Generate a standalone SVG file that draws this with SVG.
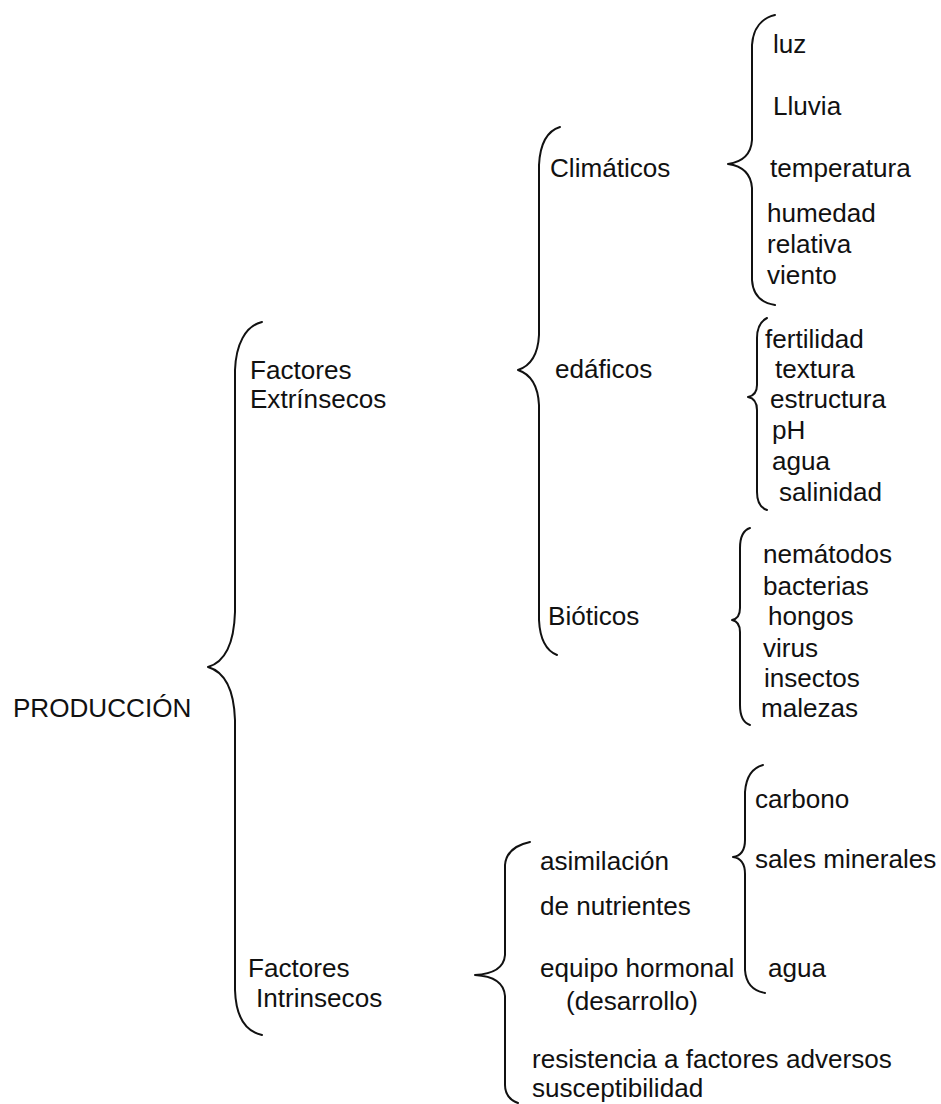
<svg xmlns="http://www.w3.org/2000/svg" width="941" height="1104" viewBox="0 0 941 1104">
<style>
  text { font-family: "Liberation Sans", Arial, sans-serif; font-size: 25px; fill: #111; }
  .brace { fill: none; stroke: #111; stroke-width: 2; stroke-linecap: round; stroke-linejoin: round; }
</style>
<rect width="941" height="1104" fill="#ffffff"/>
<g id="connectors">
  <path id="brace-produccion" class="brace" d="M262,322 C245,326 236,345 235,370 L235,612 C234,645 225,662 208,667 C225,672 234,690 235,720 L235,990 C236,1020 248,1032 262,1035"/>
  <path id="brace-extrinsecos" class="brace" d="M560,127 C547,131 540,145 539,165 L539,335 C538,355 530,366 518,370 C530,374 538,385 539,405 L539,620 C540,640 547,651 557,655"/>
  <path id="brace-climaticos" class="brace" d="M775,15 C762,18 753,28 752,45 L752,140 C751,155 742,162 728,164 C742,166 751,173 752,188 L752,280 C753,296 762,303 775,305"/>
  <path id="brace-edaficos" class="brace" d="M767,318 C761,321 757,328 757,338 L757,385 C757,392 753,396 748,397 C753,398 757,402 757,410 L757,492 C757,502 761,508 767,510"/>
  <path id="brace-bioticos" class="brace" d="M750,528 C744,530 740,537 740,548 L740,608 C740,615 737,619 732,620 C737,621 740,625 740,632 L740,705 C740,716 744,723 750,725"/>
  <path id="brace-intrinsecos" class="brace" d="M530,842 C516,845 506,852 505,865 L505,955 C504,968 493,974 475,975 C493,976 504,983 505,996 L505,1085 C505,1094 510,1100 518,1103"/>
  <path id="brace-nutrientes" class="brace" d="M763,765 C752,768 746,778 745,792 L745,840 C745,851 740,856 733,857 C740,858 745,863 745,874 L745,970 C746,985 754,991 765,993"/>
</g>
<g id="node-produccion" transform="scale(1.045 1)"><text x="12.4" y="717">PRODUCCIÓN</text></g>
<g id="node-extrinsecos" transform="scale(1.045 1)"><text x="239.2" y="379">Factores</text><text x="239.2" y="408">Extrínsecos</text></g>
<g id="node-intrinsecos" transform="scale(1.045 1)"><text x="237.3" y="977">Factores</text><text x="245" y="1007">Intrinsecos</text></g>
<g id="node-climaticos" transform="scale(1.045 1)"><text x="526.3" y="177">Climáticos</text></g>
<g id="node-edaficos" transform="scale(1.045 1)"><text x="531.1" y="378">edáficos</text></g>
<g id="node-bioticos" transform="scale(1.045 1)"><text x="524.4" y="625">Bióticos</text></g>
<g id="node-climaticos-items" transform="scale(1.045 1)">
  <text x="739.7" y="53">luz</text>
  <text x="739.7" y="115">Lluvia</text>
  <text x="736.8" y="177">temperatura</text>
  <text x="734" y="222">humedad</text>
  <text x="734" y="253">relativa</text>
  <text x="734" y="284">viento</text>
</g>
<g id="node-edaficos-items" transform="scale(1.045 1)">
  <text x="732.1" y="348">fertilidad</text>
  <text x="741.6" y="378">textura</text>
  <text x="736.8" y="408">estructura</text>
  <text x="738.8" y="439">pH</text>
  <text x="738.8" y="470">agua</text>
  <text x="745.5" y="501">salinidad</text>
</g>
<g id="node-bioticos-items" transform="scale(1.045 1)">
  <text x="730.1" y="563">nemátodos</text>
  <text x="730.1" y="595">bacterias</text>
  <text x="734.9" y="625">hongos</text>
  <text x="730.1" y="657">virus</text>
  <text x="731.1" y="687">insectos</text>
  <text x="728.2" y="717">malezas</text>
</g>
<g id="node-intrinsecos-items" transform="scale(1.045 1)">
  <text x="516.7" y="870">asimilación</text>
  <text x="516.7" y="915">de nutrientes</text>
  <text x="516.7" y="977">equipo hormonal</text>
  <text x="541.6" y="1010">(desarrollo)</text>
  <text x="509.1" y="1068">resistencia a factores adversos</text>
  <text x="509.1" y="1097">susceptibilidad</text>
</g>
<g id="node-nutrientes-items" transform="scale(1.045 1)">
  <text x="722.5" y="808">carbono</text>
  <text x="722.5" y="868">sales minerales</text>
  <text x="734.9" y="977">agua</text>
</g>
</svg>
